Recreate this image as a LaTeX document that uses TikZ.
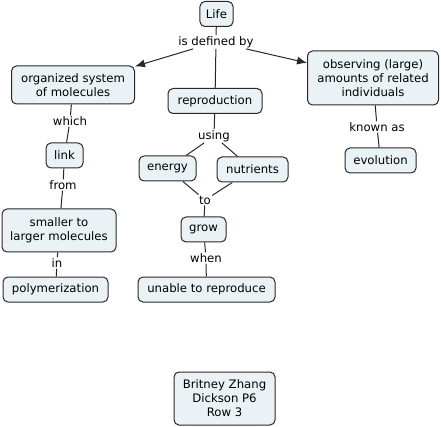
\documentclass[tikz,border=0pt]{standalone}
\usepackage{fontspec}
\setmainfont{DejaVu Sans}
\usepackage{tikz}
\usetikzlibrary{arrows.meta}
\definecolor{conceptfill}{RGB}{235,242,245}
\definecolor{conceptline}{RGB}{40,40,40}

\begin{document}
\begin{tikzpicture}[x=1pt,y=-1pt,
  font=\fontsize{11.7}{14}\selectfont,
  concept/.style={draw=conceptline,fill=conceptfill,rounded corners=5pt,
    line width=1pt,align=center,inner xsep=6pt,inner ysep=3pt,minimum height=25pt},
  linker/.style={inner sep=1pt,align=center},
  link line/.style={draw=conceptline,line width=1pt},
  tip/.style={-{Latex[length=10pt,width=8pt]}}]
\useasboundingbox (0,0) rectangle (441,427);

% concepts
\node[concept] (life) at (216.5,14) {Life};
\node[concept,minimum width=123pt,minimum height=38pt] (organized) at (73,85) {organized system\\of molecules};
\node[concept,minimum width=94pt] (repro) at (215,101) {reproduction};
\node[concept,minimum width=131pt,minimum height=54pt] (observing) at (373,78) {observing (large)\\amounts of related\\individuals};
\node[concept,minimum width=37pt] (link) at (64.5,155.5) {link};
\node[concept,minimum width=114pt,minimum height=43pt] (smaller) at (59,230.5) {smaller to\\larger molecules};
\node[concept,minimum width=105pt] (polymer) at (55.5,289.5) {polymerization};
\node[concept,minimum width=57pt] (energy) at (167.5,168.5) {energy};
\node[concept,minimum width=71pt] (nutrients) at (252.5,169.5) {nutrients};
\node[concept,minimum width=45pt] (grow) at (203.5,229.5) {grow};
\node[concept,minimum width=137pt] (unable) at (206.5,289.5) {unable to reproduce};
\node[concept,minimum width=71pt] (evolution) at (380.5,160.5) {evolution};
\node[concept,minimum width=101pt,minimum height=53pt] (author) at (224.5,398.5) {Britney Zhang\\Dickson P6\\Row 3};

% linking phrases
\node[linker] (defby) at (216,42) {is defined by};
\node[linker] (which) at (70,121) {which};
\node[linker] (from) at (63,185) {from};
\node[linker] (in) at (57,263) {in};
\node[linker] (using) at (214,136) {using};
\node[linker] (to) at (205,200) {to};
\node[linker] (when) at (206,258) {when};
\node[linker] (known) at (377,127) {known as};

% connectors
\path[link line] (life) -- (defby);
\path[link line] (defby) -- (repro);
\path[link line,tip] (defby) -- (organized);
\path[link line,tip] (defby) -- (observing);
\path[link line] (organized) -- (which);
\path[link line] (which) -- (link);
\path[link line] (link) -- (from);
\path[link line] (from) -- (smaller);
\path[link line] (smaller) -- (in);
\path[link line] (in) -- (polymer);
\path[link line] (repro) -- (using);
\path[link line] (using) -- (energy);
\path[link line] (using) -- (nutrients);
\path[link line] (energy) -- (to);
\path[link line] (nutrients) -- (to);
\path[link line] (to) -- (grow);
\path[link line] (grow) -- (when);
\path[link line] (when) -- (unable);
\path[link line] (observing) -- (known);
\path[link line] (known) -- (evolution);
\end{tikzpicture}
\end{document}
